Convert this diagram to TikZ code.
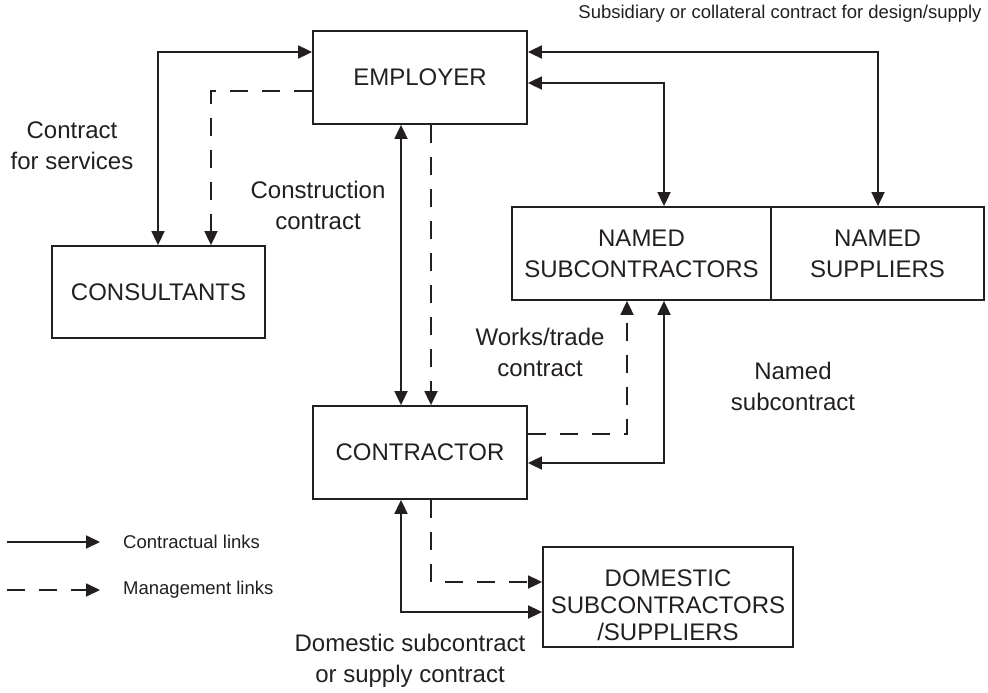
\documentclass[tikz,border=0pt]{standalone}
\usepackage{fontspec}
\setmainfont{Liberation Sans}
\usetikzlibrary{arrows.meta}
\definecolor{ink}{HTML}{231F20}
\tikzset{
  box/.style={draw=ink, line width=1.8pt, rectangle, align=center, text=ink,
    font=\fontsize{24}{31}\selectfont, inner sep=0pt},
  lbl/.style={align=center, text=ink, font=\fontsize{24}{31}\selectfont, inner sep=0pt},
  small/.style={text=ink, font=\fontsize{18.5}{22}\selectfont, inner sep=0pt},
  solidlink/.style={draw=ink, line width=1.8pt},
  dashlink/.style={draw=ink, line width=1.8pt, dash pattern=on 18pt off 14pt},
  both/.style={{Triangle[length=14pt,width=13pt]}-{Triangle[length=14pt,width=13pt]}},
  one/.style={-{Triangle[length=14pt,width=13pt]}},
}
\begin{document}
\begin{tikzpicture}[x=1pt,y=-1pt]
\useasboundingbox (0,0) rectangle (988,693);
% boxes
\node[box, minimum width=214pt, minimum height=93pt] (emp) at (420,77.5) {EMPLOYER};
\node[box, minimum width=213pt, minimum height=92pt] (cons) at (158.5,292) {CONSULTANTS};
\node[box, minimum width=259pt, minimum height=93pt] (nsub) at (641.5,253.5) {NAMED\\SUBCONTRACTORS};
\node[box, minimum width=213pt, minimum height=93pt] (nsup) at (877.5,253.5) {NAMED\\SUPPLIERS};
\node[box, minimum width=214pt, minimum height=93pt] (cont) at (420,452.5) {CONTRACTOR};
\node[box, minimum width=250pt, minimum height=100pt] (dom) at (668,597) {};
\node[lbl, font=\fontsize{24}{27}\selectfont] (domtxt) at (668,605) {DOMESTIC\\SUBCONTRACTORS\\/SUPPLIERS};
% connectors
\draw[solidlink, both] (emp.west |- 0,52) -| (cons.north -| 158,0);
\draw[dashlink, one] (emp.west |- 0,91) -| (cons.north -| 211,0);
\draw[solidlink, both] (emp.south -| 401,0) -- (cont.north -| 401,0);
\draw[dashlink, one] (emp.south -| 431,0) -- (cont.north -| 431,0);
\draw[solidlink, both] (emp.east |- 0,52) -| (nsup.north -| 878,0);
\draw[solidlink, both] (emp.east |- 0,83) -| (nsub.north -| 664,0);
\draw[dashlink, one] (cont.east |- 0,434) -| (nsub.south -| 627,0);
\draw[solidlink, both] (cont.east |- 0,463) -| (nsub.south -| 664,0);
\draw[dashlink, one] (cont.south -| 431,0) |- (dom.west |- 0,582);
\draw[solidlink, both] (cont.south -| 401,0) |- (dom.west |- 0,612);
% labels
\node[small] (toplbl) at (780,14) {Subsidiary or collateral contract for design/supply};
\node[lbl] (services) at (72,146) {Contract\\for services};
\node[lbl] (construct) at (318,205) {Construction\\contract};
\node[lbl] (works) at (540,352) {Works/trade\\contract};
\node[lbl] (namedsc) at (793,386) {Named\\subcontract};
\node[lbl] (domsc) at (410,661) {Domestic subcontract\\or supply contract};
% legend
\coordinate (la) at (7,542);
\coordinate (lb) at (100,542);
\coordinate (lc) at (7,590);
\coordinate (ld) at (100,590);
\draw[solidlink, one] (la) -- (lb);
\draw[dashlink, one] (lc) -- (ld);
\node[small, anchor=west] (leg1) at (123,542) {Contractual links};
\node[small, anchor=west] (leg2) at (123,590) {Management links};
\end{tikzpicture}
\end{document}
